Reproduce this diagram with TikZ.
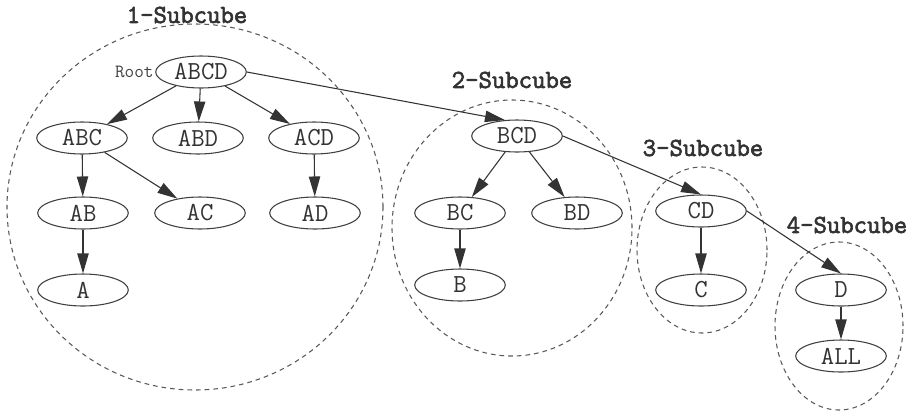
\documentclass[tikz,border=0pt]{standalone}
\usepackage{fontspec}
\newfontfamily\ttbold[FakeBold=2.5]{Latin Modern Mono}
\usetikzlibrary{shapes.geometric,arrows.meta}
\begin{document}
\begin{tikzpicture}[x=0.75pt,y=-0.75pt,
  nd/.style={ellipse,draw=black!75,line width=0.8pt,minimum width=68pt,minimum height=24pt,inner sep=0pt,font=\fontsize{19.5}{21}\selectfont\ttfamily,text=black!80},
  grp/.style={ellipse,draw=black!65,dash pattern=on 3.5pt off 3pt,line width=0.8pt,inner sep=0pt},
  ttl/.style={font=\fontsize{19.5}{21}\selectfont\ttbold,text=black!80},
  edge/.style={draw=black!80,line width=0.8pt,-{Triangle[length=15pt,width=8.5pt]}}]
\useasboundingbox (0,0) rectangle (914,415);
% groups
\node[grp,minimum width=282pt,minimum height=274.5pt] (c1) at (195,207) {};
\node[grp,minimum width=180pt,minimum height=192pt] (c2) at (512,228) {};
\node[grp,minimum width=97.5pt,minimum height=124.5pt] (c3) at (702,250) {};
\node[grp,minimum width=96pt,minimum height=126pt] (c4) at (839,326) {};
% titles
\node[ttl] (t1) at (187,15) {1-Subcube};
\node[ttl] (t2) at (512,80) {2-Subcube};
\node[ttl] (t3) at (703,148) {3-Subcube};
\node[ttl] (t4) at (847,225) {4-Subcube};
% nodes
\node[nd] (ABCD) at (201,72) {ABCD};
\node[font=\fontsize{14}{15}\selectfont\ttfamily,text=black!75,anchor=east,inner sep=1pt] (root) at (ABCD.west) {Root};
\node[nd] (ABC) at (82,138) {ABC};
\node[nd] (ABD) at (198,138) {ABD};
\node[nd] (ACD) at (314,138) {ACD};
\node[nd] (AB) at (83,213) {AB};
\node[nd] (AC) at (200,213) {AC};
\node[nd] (AD) at (315,213) {AD};
\node[nd] (A) at (83,290) {A};
\node[nd] (BCD) at (517,136) {BCD};
\node[nd] (BC) at (460,213) {BC};
\node[nd] (BD) at (577,213) {BD};
\node[nd] (B) at (460,285) {B};
\node[nd] (CD) at (701,211) {CD};
\node[nd] (C) at (701,290) {C};
\node[nd] (D) at (841,290) {D};
\node[nd] (ALL) at (841,356) {ALL};
% edges
\draw[edge] (ABCD) -- (ABC);
\draw[edge] (ABCD) -- (ABD);
\draw[edge] (ABCD) -- (ACD);
\draw[edge] (ABCD.east) -- (BCD.127);
\draw[edge] (ABC) -- (AB);
\draw[edge] (ABC) -- (AC);
\draw[edge] (ACD) -- (AD);
\draw[edge] (AB) -- (A);
\draw[edge] (BCD) -- (BC);
\draw[edge] (BCD) -- (BD);
\draw[edge] (BC) -- (B);
\draw[edge] (BCD.east) -- (CD.north);
\draw[edge] (CD) -- (C);
\draw[edge] (CD.east) -- (D.north);
\draw[edge] (D) -- (ALL);
\end{tikzpicture}
\end{document}
